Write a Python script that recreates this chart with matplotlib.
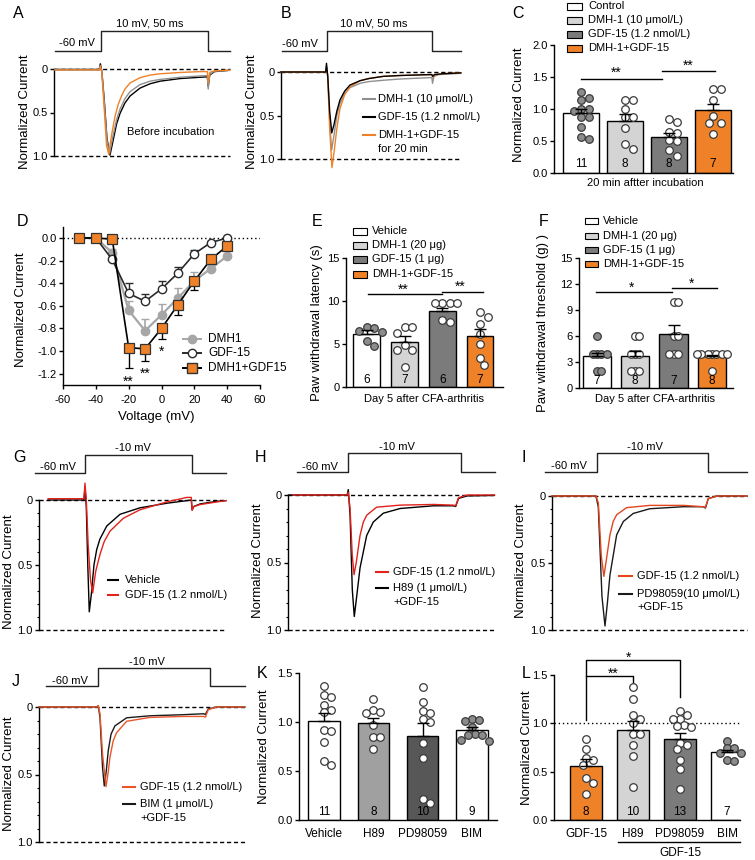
import matplotlib
matplotlib.use("Agg")
import matplotlib.pyplot as plt
from matplotlib.lines import Line2D
from matplotlib.patches import Rectangle
import numpy as np

plt.rcParams["font.family"] = ["Liberation Sans", "DejaVu Sans"]
plt.rcParams["font.size"] = 8
plt.rcParams["axes.unicode_minus"] = False
plt.rcParams["axes.linewidth"] = 1.0
plt.rcParams["xtick.major.width"] = 1.0
plt.rcParams["ytick.major.width"] = 1.0
plt.rcParams["xtick.major.size"] = 3
plt.rcParams["ytick.major.size"] = 3
plt.rcParams["ytick.major.pad"] = 1.5
plt.rcParams["xtick.major.pad"] = 4.5
plt.rcParams["xtick.labelsize"] = 8
plt.rcParams["ytick.labelsize"] = 8

ORANGE = "#ef8228"

# ---------- A: traces before incubation (time ms, normalized current) ----------
a_black = [(-21.5, 0.005), (-0.8, 0.005), (-0.3, -0.06), (0.4, 0.03), (1.5, 0.35), (2.8, 0.8),
           (4.2, 0.99), (5.5, 0.84), (7.3, 0.63), (8.9, 0.51), (11.2, 0.39), (13.6, 0.31),
           (18.2, 0.22), (22.9, 0.17), (27.6, 0.14), (36.9, 0.11), (46.3, 0.095), (49.7, 0.09),
           (50.1, 0.2), (50.8, 0.07), (53, 0.03), (60, 0.015)]
a_gray = [(-21.5, 0.01), (-0.8, 0.01), (-0.3, -0.04), (0.4, 0.03), (1.5, 0.38), (2.8, 0.82),
          (4.0, 0.97), (5.5, 0.78), (7.3, 0.58), (8.9, 0.46), (11.2, 0.34), (13.6, 0.26),
          (18.2, 0.18), (22.9, 0.14), (27.6, 0.12), (36.9, 0.095), (46.3, 0.08), (49.7, 0.075),
          (50.1, 0.23), (50.8, 0.06), (53, 0.025), (60, 0.015)]
a_orange = [(-21.5, 0.01), (-0.8, 0.01), (-0.3, -0.03), (0.4, 0.04), (1.5, 0.45), (2.6, 0.88),
            (3.6, 0.98), (5.0, 0.75), (6.5, 0.55), (8.0, 0.41), (9.6, 0.31), (11.2, 0.23),
            (13.6, 0.16), (18.2, 0.1), (22.9, 0.07), (27.6, 0.055), (36.9, 0.04), (46.3, 0.03),
            (49.7, 0.03), (50.1, 0.16), (50.8, 0.04), (53, 0.02), (60, 0.015)]

# ---------- B: traces after 20 min ----------
b_gray = [(-21.7, 0.0), (-0.5, 0.0), (-0.1, -0.06), (0.5, 0.05), (1.4, 0.55), (2.3, 0.9),
          (3.5, 0.72), (4.8, 0.5), (6.3, 0.36), (8.5, 0.25), (11, 0.18), (15.8, 0.13),
          (20, 0.11), (26.8, 0.095), (35, 0.08), (49, 0.065), (49.8, 0.065), (50.1, 0.13),
          (50.8, 0.05), (53, 0.03), (63.5, 0.015)]
b_black = [(-21.7, 0.0), (-0.5, 0.0), (-0.1, -0.1), (0.5, 0.05), (1.4, 0.45), (2.4, 0.70),
           (3.5, 0.6), (4.8, 0.45), (6.3, 0.32), (8.5, 0.22), (11, 0.15), (15.8, 0.1),
           (20, 0.075), (26.8, 0.05), (35, 0.04), (49, 0.03), (49.8, 0.03), (50.2, 0.05),
           (51, 0.03), (55, 0.02), (63.5, 0.01)]
b_orange = [(-21.7, 0.0), (-0.5, 0.0), (-0.1, -0.04), (0.5, 0.06), (1.4, 0.65), (2.5, 1.1),
            (3.5, 0.92), (4.8, 0.65), (6.3, 0.42), (8.5, 0.26), (11, 0.17), (15.8, 0.1),
            (20, 0.075), (26.8, 0.05), (35, 0.04), (49, 0.03), (49.8, 0.03), (50.1, 0.06),
            (51, 0.03), (55, 0.02), (63.5, 0.01)]

# ---------- C ----------
c_labels = ["Control", "DMH-1 (10 \u03bcmol/L)", "GDF-15 (1.2 nmol/L)", "DMH-1+GDF-15"]
c_mean = [0.94, 0.82, 0.56, 0.99]
c_sem = [0.07, 0.10, 0.07, 0.09]
c_n = [11, 8, 8, 7]
c_points = [[1.27, 1.18, 1.15, 1.00, 1.00, 0.97, 0.87, 0.87, 0.72, 0.57, 0.53],
            [1.14, 1.14, 1.00, 0.88, 0.87, 0.70, 0.46, 0.38],
            [0.84, 0.80, 0.65, 0.63, 0.52, 0.50, 0.37, 0.27],
            [1.32, 1.32, 1.15, 0.89, 0.79, 0.78, 0.62]]

# ---------- D: I-V curves ----------
d_voltage = [-50, -40, -30, -20, -10, 0, 10, 20, 30, 40]
d_dmh1 = [0.0, 0.0, -0.13, -0.64, -0.82, -0.68, -0.53, -0.38, -0.27, -0.16]
d_dmh1_sem = [0, 0, 0.03, 0.08, 0.10, 0.095, 0.09, 0.08, 0.03, 0.02]
d_gdf = [0.0, 0.0, -0.19, -0.49, -0.56, -0.45, -0.31, -0.14, -0.04, 0.0]
d_gdf_sem = [0, 0, 0.02, 0.09, 0.065, 0.07, 0.055, 0.03, 0.01, 0.0]
d_combo = [0.0, 0.0, -0.01, -0.97, -0.98, -0.80, -0.59, -0.38, -0.19, -0.07]
d_combo_sem = [0, 0, 0.02, 0.18, 0.11, 0.09, 0.095, 0.08, 0.03, 0.02]

# ---------- E / F ----------
ef_labels = ["Vehicle", "DMH-1 (20 \u03bcg)", "GDF-15 (1 \u03bcg)", "DMH-1+GDF-15"]
e_mean = [6.2, 5.3, 8.8, 5.9]
e_sem = [0.4, 0.6, 0.4, 0.8]
e_n = [6, 7, 6, 7]
e_points = [[7.0, 6.9, 6.5, 6.4, 5.4, 4.8],
            [7.0, 7.0, 6.3, 4.9, 4.3, 4.3, 2.3],
            [9.8, 9.7, 9.7, 9.7, 7.8, 7.6],
            [8.7, 8.1, 7.3, 6.2, 5.0, 3.4, 2.6]]
f_mean = [3.7, 3.7, 6.3, 3.75]
f_sem = [0.35, 0.6, 1.0, 0.1]
f_n = [7, 8, 7, 8]
f_points = [[6, 4, 4, 4, 4, 2, 2],
            [6, 6, 4, 4, 4, 2, 2, 2],
            [10, 10, 6, 6, 4, 4, 4],
            [4, 4, 4, 4, 4, 4, 4, 2]]

# ---------- G-J: traces at -10 mV ----------
g_vehicle = [(-17.3, 0.0), (-0.5, 0.0), (0, -0.1), (0.6, 0.05), (1.3, 0.5), (2.0, 0.86),
             (3.0, 0.72), (4.2, 0.5), (5.5, 0.38), (7.0, 0.3), (10.2, 0.2), (16.4, 0.11),
             (25.8, 0.06), (38.3, 0.025), (47.7, 0.005), (49.8, 0.0), (50.2, 0.075),
             (51, 0.05), (54, 0.03), (61.8, 0.01), (66, 0.005)]
g_gdf = [(-17.3, -0.01), (-0.5, -0.01), (0, -0.13), (0.6, 0.0), (1.5, 0.35), (2.6, 0.62),
         (3.6, 0.715), (5.0, 0.55), (7.0, 0.42), (9.0, 0.32), (11.7, 0.24), (18, 0.14),
         (25.8, 0.075), (38.3, 0.015), (47.7, -0.02), (49.8, -0.02), (50.2, 0.08),
         (51, 0.05), (54, 0.035), (61.8, 0.015), (66, 0.005)]
h_gdf = [(-25, 0.0), (-0.5, 0.0), (0, -0.02), (0.8, 0.1), (1.8, 0.45), (2.6, 0.59),
         (3.6, 0.5), (5.3, 0.3), (6.8, 0.2), (8.3, 0.15), (12.8, 0.09), (23.4, 0.075),
         (38.5, 0.07), (47.5, 0.075), (48.5, 0.08), (49.8, 0.02), (53.6, 0.0), (66, 0.0)]
h_h89 = [(-27, 0.0), (-0.5, 0.0), (0, -0.04), (0.8, 0.15), (1.8, 0.7), (2.7, 0.9),
         (3.8, 0.75), (5.3, 0.54), (8.3, 0.3), (11.3, 0.2), (15.8, 0.135), (23.4, 0.1),
         (38.5, 0.08), (47.5, 0.08), (48.5, 0.085), (49.8, 0.025), (53.6, 0.007), (66, 0.003)]
i_gdf = [(-20.8, 0.0), (-0.5, 0.0), (0.6, 0.05), (2.0, 0.45), (3.2, 0.60), (4.3, 0.48),
         (6.0, 0.29), (7.5, 0.19), (9.1, 0.14), (13.7, 0.087), (24.5, 0.07), (40, 0.07),
         (49.2, 0.08), (50.2, 0.085), (51.5, 0.02), (55.4, 0.0), (69.4, 0.0)]
i_pd = [(-20.8, 0.0), (-0.5, 0.0), (0.6, 0.08), (2.3, 0.75), (3.7, 0.97), (4.8, 0.8),
        (6.0, 0.59), (9.1, 0.29), (12.2, 0.19), (16.8, 0.13), (24.5, 0.095), (40, 0.08),
        (49.2, 0.08), (50.2, 0.09), (51.5, 0.02), (55.4, 0.0), (69.4, 0.0)]
j_gdf = [(-27.8, 0.0), (-0.5, 0.0), (0, -0.01), (0.8, 0.05), (2.0, 0.35), (3.6, 0.59),
         (4.5, 0.5), (5.5, 0.37), (7.0, 0.25), (8.6, 0.19), (13.3, 0.106), (24.3, 0.077),
         (39.9, 0.07), (49.3, 0.07), (50.3, 0.075), (51.6, 0.02), (55.6, 0.0), (68.8, 0.0)]
j_bim = [(-27.8, 0.0), (-0.5, 0.0), (0, -0.01), (0.8, 0.08), (2.0, 0.45), (2.8, 0.585),
         (3.7, 0.48), (4.7, 0.32), (6.0, 0.2), (7.8, 0.14), (13.3, 0.08), (24.3, 0.065),
         (39.9, 0.057), (49.3, 0.05), (50.3, 0.055), (51.6, 0.015), (55.6, 0.0), (68.8, 0.0)]

# ---------- K / L ----------
k_labels = ["Vehicle", "H89", "PD98059", "BIM"]
k_mean = [1.01, 0.99, 0.86, 0.925]
k_sem = [0.08, 0.055, 0.13, 0.03]
k_n = [11, 8, 10, 9]
k_points = [[1.37, 1.28, 1.26, 1.18, 1.12, 1.10, 0.92, 0.91, 0.80, 0.60, 0.56],
            [1.24, 1.12, 1.10, 1.09, 0.97, 0.85, 0.85, 0.73],
            [1.36, 1.21, 1.11, 1.09, 1.03, 1.00, 0.79, 0.63, 0.21, 0.17],
            [1.03, 1.02, 1.01, 0.95, 0.88, 0.87, 0.87, 0.82, 0.81]]
l_labels = ["GDF-15", "H89", "PD98059", "BIM"]
l_mean = [0.56, 0.93, 0.835, 0.70]
l_sem = [0.075, 0.09, 0.065, 0.025]
l_n = [8, 10, 13, 7]
l_points = [[0.84, 0.73, 0.64, 0.62, 0.57, 0.43, 0.38, 0.27],
            [1.38, 1.25, 1.09, 1.04, 1.00, 0.89, 0.89, 0.78, 0.66, 0.34],
            [1.13, 1.09, 1.05, 1.05, 0.98, 0.97, 0.96, 0.80, 0.78, 0.73, 0.62, 0.53, 0.32],
            [0.82, 0.74, 0.74, 0.69, 0.69, 0.62, 0.61]]

# =====================================================================
W, H = 755, 860
fig = plt.figure(figsize=(7.55, 8.6), dpi=100)


def add_ax(x0, y0, x1, y1):
    return fig.add_axes([x0 / W, 1 - y1 / H, (x1 - x0) / W, (y1 - y0) / H])


def ftext(x, y, s, **kw):
    kw.setdefault("ha", "center")
    kw.setdefault("va", "center")
    fig.text(x / W, 1 - y / H, s, **kw)


def fline(xs, ys, **kw):
    kw.setdefault("color", "k")
    kw.setdefault("lw", 1.0)
    fig.add_artist(Line2D([x / W for x in xs], [1 - y / H for y in ys], **kw))


def trace_panel(x0, x1, y0, y1, on, off, minor=False):
    sc = (off - on) / 50.0
    ax = add_ax(x0, y0, x1, y1)
    ax.set_xlim((x0 - on) / sc, (x1 - on) / sc)
    ax.set_ylim(1, 0)
    for s in ["top", "right", "bottom"]:
        ax.spines[s].set_visible(False)
    ax.set_xticks([])
    ax.set_yticks([0, 0.5, 1.0])
    ax.set_yticklabels(["0", "0.5", "1.0"])
    if minor:
        ax.set_yticks(np.arange(0.1, 1.0, 0.1), minor=True)
        ax.tick_params(axis="y", which="minor", length=1.8, width=0.8)
    for yv in (0, 1):
        ax.axhline(yv, color="k", lw=1, ls=(0, (3, 2)), zorder=1, clip_on=False)
    ax.patch.set_visible(False)
    return ax, on, sc


def plot_trace(ax, pts, color, z=2):
    t, v = zip(*pts)
    ax.plot(t, v, color=color, lw=1.0, clip_on=False, zorder=z)


def protocol(panel, px0, px1, y_step, y_hold, v_step, t_off):
    ax, on, sc = panel
    bb = ax.get_position()
    pax = fig.add_axes([bb.x0, 1 - y_hold / H, bb.width, (y_hold - y_step) / H])
    pax.set_xlim(ax.get_xlim())
    pax.set_ylim(-60, v_step)
    pax.axis("off")
    ts, te = (px0 - on) / sc, (px1 - on) / sc
    pax.plot([ts, 0, 0, t_off, t_off, te], [-60, -60, v_step, v_step, -60, -60],
             color="#222222", lw=1.0, clip_on=False)


def bar_axes(x0, x1, ytop, yzero, ymax, c0, sp):
    ax = add_ax(x0, ytop, x1, yzero)
    ax.set_xlim((x0 - c0) / sp, (x1 - c0) / sp)
    ax.set_ylim(0, ymax)
    ax.spines["top"].set_visible(False)
    ax.spines["right"].set_visible(False)
    ax.set_xticks([])
    ax.patch.set_visible(False)
    return ax


def swarm_x(ax, xc, vals, dmin):
    tr = ax.transData
    inv = tr.inverted()
    cx = tr.transform((xc, 0))[0]
    placed, out = [], [0.0] * len(vals)
    cands = [0.0]
    for m in range(1, 40):
        cands += [m * dmin * 0.5, -m * dmin * 0.5]
    for i in sorted(range(len(vals)), key=lambda k: -vals[k]):
        py = tr.transform((xc, vals[i]))[1]
        for off in cands:
            if all((cx + off - qx) ** 2 + (py - qy) ** 2 >= dmin ** 2 for qx, qy in placed):
                break
        placed.append((cx + off, py))
        out[i] = inv.transform((cx + off, py))[0]
    return out


def fill_bars(ax, means, sems, colors, points, filled, ns, width, dmin=7.5, npad=8):
    xs = np.arange(len(means))
    ax.bar(xs, means, width=width, color=colors, edgecolor="k", linewidth=1.0, zorder=2)
    for i, vals in enumerate(points):
        px = swarm_x(ax, i, vals, dmin)
        fc = "#8c8c8c" if filled[i] else "white"
        ax.scatter(px, vals, s=30, facecolor=fc, edgecolor="#3a3a3a", linewidths=0.9,
                   zorder=3, clip_on=False)
    ax.errorbar(xs, means, yerr=[np.zeros(len(means)), sems], fmt="none", ecolor="k",
                elinewidth=1.0, capsize=4, capthick=1.0, zorder=4)
    for i, n in enumerate(ns):
        ax.annotate(str(n), (i, 0), xytext=(0, npad), textcoords="offset pixels",
                    ha="center", va="center", fontsize=8.5, zorder=5)


def sig(ax, x1, x2, y, xs, star, dy=5):
    ax.plot([x1, x2], [y, y], color="k", lw=1.0, clip_on=False)
    ax.annotate(star, (xs, y), xytext=(0, dy), textcoords="offset pixels",
                ha="center", va="center", fontsize=10, annotation_clip=False)


def box_legend(xb, xt, ys, colors, labels, bw, bh):
    for y, c, lab in zip(ys, colors, labels):
        fig.add_artist(Rectangle((xb / W, 1 - (y + bh / 2) / H), bw / W, bh / H,
                                 facecolor=c, edgecolor="k", lw=0.8,
                                 transform=fig.transFigure))
        ftext(xt, y, lab, ha="left", fontsize=8)


def line_legend(x0, x1, xt, ys, colors, labels):
    for y, c, lab in zip(ys, colors, labels):
        fline([x0, x1], [y, y], color=c, lw=1.5)
        ftext(xt, y, lab, ha="left", fontsize=8)


# ---------------- A ----------------
pa = trace_panel(54, 230, 69, 156, 101, 208)
plot_trace(pa[0], a_black, "k", 2)
plot_trace(pa[0], a_gray, "#8f8f8f", 3)
plot_trace(pa[0], a_orange, ORANGE, 4)
protocol(pa, 55, 230, 31, 51, 10, 50)
ftext(77, 43, "-60 mV")
ftext(150, 23, "10 mV, 50 ms")
ftext(171, 132, "Before incubation")
ftext(25, 112, "Normalized Current", rotation=90, fontsize=9.5)

# ---------------- B ----------------
pb = trace_panel(281, 461, 72, 159, 326.7, 432.3)
plot_trace(pb[0], b_gray, "#8f8f8f", 2)
plot_trace(pb[0], b_orange, ORANGE, 3)
plot_trace(pb[0], b_black, "k", 4)
protocol(pb, 282, 461, 31, 51, 10, 50)
ftext(300, 44, "-60 mV")
ftext(374, 23, "10 mV, 50 ms")
line_legend(363, 375, 378, [99, 117, 135], ["#8f8f8f", "k", ORANGE],
            ["DMH-1 (10 \u03bcmol/L)", "GDF-15 (1.2 nmol/L)", "DMH-1+GDF-15"])
ftext(378, 149, "for 20 min", ha="left")
ftext(252, 112, "Normalized Current", rotation=90, fontsize=9.5)

# ---------------- C ----------------
axc = bar_axes(554, 733, 45, 173.3, 2.0, 581, 44)
axc.set_yticks([0, 0.5, 1.0, 1.5, 2.0])
axc.set_yticklabels(["0.0", "0.5", "1.0", "1.5", "2.0"])
fill_bars(axc, c_mean, c_sem, ["white", "#d4d4d4", "#7b7b7b", ORANGE], c_points,
          [True, False, False, False], c_n, 0.81, dmin=7.5, npad=9)
sig(axc, 0, 1.83, 1.47, 0.81, "**", 6)
sig(axc, 1.83, 3.05, 1.59, 2.43, "**", 6)
box_legend(567, 588, [6, 20, 34, 48], ["white", "#d4d4d4", "#7b7b7b", ORANGE], c_labels, 15, 7)
ftext(645, 183, "20 min aftter incubation", fontsize=8)
ftext(519, 105, "Normalized Current", rotation=90, fontsize=9.5)

# ---------------- D ----------------
axd = add_ax(63, 226.7, 260, 385)
axd.set_xlim(-60, 60)
axd.set_ylim(-1.3, 0.1)
axd.spines["top"].set_visible(False)
axd.spines["right"].set_visible(False)
axd.set_xticks(np.arange(-60, 61, 20))
axd.set_yticks(np.arange(-1.2, 0.01, 0.2))
axd.set_yticklabels([f"{v:.1f}" if abs(v) > 1e-9 else "0.0" for v in np.arange(-1.2, 0.01, 0.2)])
axd.axhline(0, color="k", lw=1.0, ls=(0, (1, 2)), zorder=1)
zeros = np.zeros(len(d_voltage))
axd.errorbar(d_voltage, d_dmh1, yerr=[zeros, d_dmh1_sem], color="#a6a6a6", lw=1.6,
             marker="o", ms=6, mfc="#a6a6a6", mec="#a6a6a6", capsize=3, elinewidth=1.2,
             ecolor="#a6a6a6", zorder=2, clip_on=False)
axd.errorbar(d_voltage, d_gdf, yerr=[zeros, d_gdf_sem], color="#2a2a2a", lw=1.2,
             marker="o", ms=6, mfc="white", mec="#2a2a2a", mew=1.0, capsize=3,
             elinewidth=1.0, ecolor="#2a2a2a", zorder=3, clip_on=False)
axd.errorbar(d_voltage, d_combo, yerr=[d_combo_sem, zeros], color="k", lw=1.2,
             marker="s", ms=7.5, mfc=ORANGE, mec="#333333", mew=0.9, capsize=3,
             elinewidth=1.0, ecolor="k", zorder=4, clip_on=False)
axd.text(-20, -1.27, "**", ha="center", va="center", fontsize=10)
axd.text(-10, -1.20, "**", ha="center", va="center", fontsize=10)
axd.text(0, -1.01, "*", ha="center", va="center", fontsize=10)
# legend
for y, c, mk, mfc, mec in [(339, "#a6a6a6", "o", "#a6a6a6", "#a6a6a6"),
                           (353, "#2a2a2a", "o", "white", "#2a2a2a"),
                           (368, "k", "s", ORANGE, "#333333")]:
    fline([183, 201], [y, y], color=c, lw=1.4)
    fig.add_artist(Line2D([192 / W], [1 - y / H], marker=mk, ms=7 if mk == "s" else 6,
                          mfc=mfc, mec=mec, mew=1.0, ls="none"))
ftext(208, 339, "DMH1", ha="left", fontsize=8.5)
ftext(208, 353, "GDF-15", ha="left", fontsize=8.5)
ftext(208, 368, "DMH1+GDF15", ha="left", fontsize=8.5)
ftext(156, 417, "Voltage (mV)", fontsize=9.5)
ftext(21, 310, "Normalized Current", rotation=90, fontsize=9.5)

# ---------------- E ----------------
axe = bar_axes(345.7, 503, 257.7, 387.3, 15, 366.7, 37.8)
axe.set_yticks([0, 5, 10, 15])
fill_bars(axe, e_mean, e_sem, ["white", "#d4d4d4", "#7b7b7b", ORANGE], e_points,
          [True, False, False, False], e_n, 0.7, dmin=7.5, npad=7)
sig(axe, 0.03, 2.0, 10.76, 0.96, "**", 5)
sig(axe, 2.0, 3.08, 11.0, 2.47, "**", 5)
box_legend(353, 372, [231, 245, 259, 274], ["white", "#d4d4d4", "#7b7b7b", ORANGE],
           ef_labels, 14, 7)
ftext(424, 399, "Day 5 after CFA-arthritis", fontsize=8)
ftext(317, 323, "Paw withdrawal latency (s)", rotation=90, fontsize=9.5)

# ---------------- F ----------------
axf = bar_axes(579, 733, 258.3, 388.3, 15, 596.7, 38.4)
axf.set_yticks([0, 3, 6, 9, 12, 15])
fill_bars(axf, f_mean, f_sem, ["white", "#d4d4d4", "#7b7b7b", ORANGE], f_points,
          [True, False, False, False], f_n, 0.73, dmin=4.2, npad=7)
sig(axf, -0.03, 1.95, 11.08, 0.9, "*", 4)
sig(axf, 1.95, 3.13, 11.6, 2.46, "*", 4)
box_legend(585, 603, [221, 236, 250, 264], ["white", "#d4d4d4", "#7b7b7b", ORANGE],
           ef_labels, 13, 6.5)
ftext(655, 399, "Day 5 after CFA-arthritis", fontsize=8)
ftext(543, 323, "Paw withdrawal threshold (g) )", rotation=90, fontsize=9.5)

# ---------------- G ----------------
pg = trace_panel(39, 226, 500, 630, 85, 191.7, minor=True)
plot_trace(pg[0], g_vehicle, "k", 2)
plot_trace(pg[0], g_gdf, "#e3221c", 3)
protocol(pg, 35, 226, 455, 473, -10, 50)
ftext(58, 467, "-60 mV")
ftext(133, 448, "-10 mV")
line_legend(108, 118, 125, [580, 595], ["k", "#e3221c"], ["Vehicle", "GDF-15 (1.2 nmol/L)"])
ftext(9, 572, "Normalized Current", rotation=90, fontsize=9.5)

# ---------------- H ----------------
ph = trace_panel(288, 495, 495, 630, 348.3, 459, minor=True)
plot_trace(ph[0], h_h89, "k", 2)
plot_trace(ph[0], h_gdf, "#e3221c", 3)
protocol(ph, 297, 495, 453, 472, -10, 50.8)
ftext(320, 467, "-60 mV")
ftext(397, 447, "-10 mV")
line_legend(376, 388, 393, [572, 588], ["#e3221c", "k"],
            ["GDF-15 (1.2 nmol/L)", "H89 (1 \u03bcmol/L)"])
ftext(393, 602, "+GDF-15", ha="left")
ftext(258, 561, "Normalized Current", rotation=90, fontsize=9.5)

# ---------------- I ----------------
pi_ = trace_panel(552, 747, 496, 630, 597, 705, minor=True)
plot_trace(pi_[0], i_pd, "#1a1a1a", 2)
plot_trace(pi_[0], i_gdf, "#e4451d", 3)
protocol(pi_, 545, 747, 453, 472, -10, 51.4)
ftext(569, 466, "-60 mV")
ftext(645, 447, "-10 mV")
line_legend(619, 632, 637, [576, 594], ["#e4451d", "#1a1a1a"],
            ["GDF-15 (1.2 nmol/L)", "PD98059(10 \u03bcmol/L)"])
ftext(637, 607, "+GDF-15", ha="left")
ftext(521, 561, "Normalized Current", rotation=90, fontsize=9.5)

# ---------------- J ----------------
pj = trace_panel(39, 245, 707, 842, 98.3, 204.8, minor=True)
plot_trace(pj[0], j_bim, "#1a1a1a", 2)
plot_trace(pj[0], j_gdf, "#e8562a", 3)
protocol(pj, 46, 245, 668, 686, -10, 52.4)
ftext(70, 681, "-60 mV")
ftext(147, 662, "-10 mV")
line_legend(123, 135, 140, [787, 804], ["#e8562a", "#1a1a1a"],
            ["GDF-15 (1.2 nmol/L)", "BIM (1 \u03bcmol/L)"])
ftext(140, 818, "+GDF-15", ha="left")
ftext(9, 774, "Normalized Current", rotation=90, fontsize=9.5)

# ---------------- K ----------------
axk = bar_axes(299, 497, 673.3, 820, 1.5, 324, 49.3)
axk.set_yticks([0, 0.5, 1.0, 1.5])
axk.set_yticklabels(["0.0", "0.5", "1.0", "1.5"])
fill_bars(axk, k_mean, k_sem, ["white", "#a0a0a0", "#575757", "white"], k_points,
          [False, False, False, True], k_n, 0.64, dmin=7.0, npad=8)
axk.set_xticks(range(4))
axk.set_xticklabels(k_labels, fontsize=8.5)
axk.tick_params(axis="x", length=0, pad=5.5)
ftext(264, 747, "Normalized Current", rotation=90, fontsize=9.5)

# ---------------- L ----------------
axl = bar_axes(554, 740, 675, 820, 1.5, 586, 47)
axl.set_yticks([0, 0.5, 1.0, 1.5])
axl.set_yticklabels(["0.0", "0.5", "1.0", "1.5"])
axl.axhline(1.0, color="k", lw=1.0, ls=(0, (1, 2)), zorder=1)
fill_bars(axl, l_mean, l_sem, [ORANGE, "#d4d4d4", "#7b7b7b", "white"], l_points,
          [False, False, False, True], l_n, 0.67, dmin=7.0, npad=8)
axl.set_xticks(range(4))
axl.set_xticklabels(l_labels, fontsize=8.5)
axl.tick_params(axis="x", length=0, pad=5.5)
axl.plot([0, 0, 2, 2], [1.03, 1.655, 1.655, 1.276], color="k", lw=1.0, clip_on=False)
axl.plot([0, 1, 1], [1.49, 1.49, 1.41], color="k", lw=1.0, clip_on=False)
axl.text(0.9, 1.679, "*", ha="center", va="center", fontsize=10, clip_on=False)
axl.text(0.57, 1.513, "**", ha="center", va="center", fontsize=10, clip_on=False)
fline([618, 740], [842, 842])
ftext(680, 853, "GDF-15", fontsize=8.5)
ftext(527, 748, "Normalized Current", rotation=90, fontsize=9.5)

# ---------------- panel letters ----------------
for s, x, y in [("A", 18, 13), ("B", 286, 13), ("C", 518, 13), ("D", 22, 222),
                ("E", 317, 222), ("F", 544, 222), ("G", 20, 457), ("H", 260, 458),
                ("I", 524, 458), ("J", 16, 682), ("K", 262, 673), ("L", 526, 673)]:
    ftext(x, y, s, fontsize=11.5)

fig.savefig("out.png", dpi=100)
